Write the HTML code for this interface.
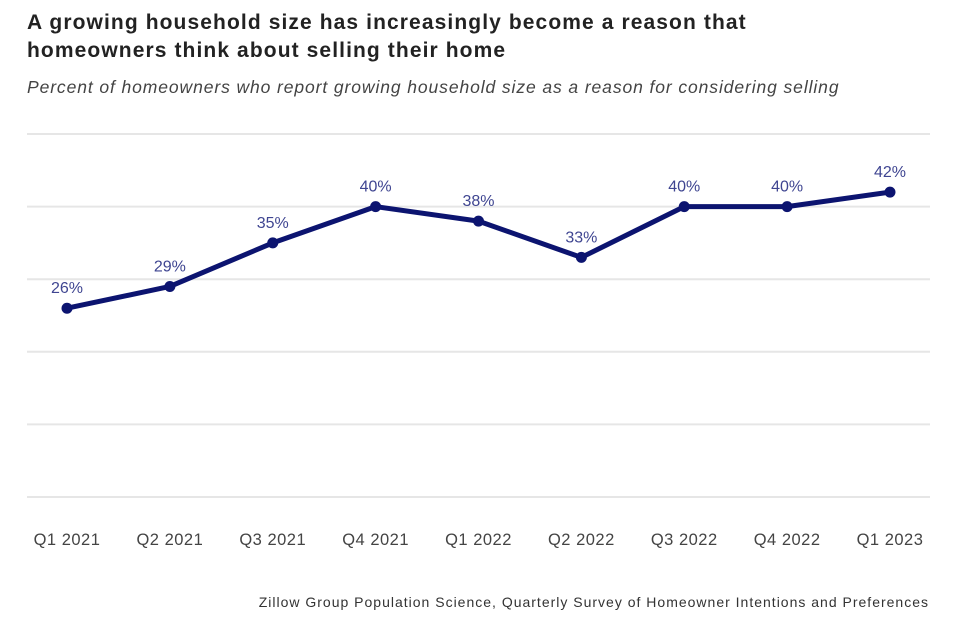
<!DOCTYPE html>
<html><head><meta charset="utf-8"><style>
body{margin:0;background:#fff;width:955px;height:628px;overflow:hidden;font-family:"Liberation Sans",sans-serif;}
.t{position:absolute;left:27px;top:9px;font-size:21px;letter-spacing:1.1px;font-weight:bold;color:#222;line-height:28px;margin:0}
.s{position:absolute;left:27px;top:77px;font-size:17.5px;letter-spacing:0.9px;font-style:italic;color:#444;}
.src{position:absolute;right:26px;top:594px;font-size:14px;letter-spacing:1px;color:#333;}
svg{position:absolute;left:0;top:0}
</style></head><body>
<h1 class="t">A growing household size has increasingly become a reason that<br>homeowners think about selling their home</h1>
<div class="s">Percent of homeowners who report growing household size as a reason for considering selling</div>
<svg id="c" width="955" height="628"></svg>
<div class="src">Zillow Group Population Science, Quarterly Survey of Homeowner Intentions and Preferences</div>
<script>
const categories=["Q1 2021","Q2 2021","Q3 2021","Q4 2021","Q1 2022","Q2 2022","Q3 2022","Q4 2022","Q1 2023"];
const values=[26,29,35,40,38,33,40,40,42];
const gridTicks=[0,10,20,30,40,50];
const svg=document.getElementById('c');const NS='http://www.w3.org/2000/svg';
const x=i=>67+i*(890-67)/(categories.length-1);
const y=v=>497-v*7.26;
function mk(t,a){const e=document.createElementNS(NS,t);for(const k in a)e.setAttribute(k,a[k]);svg.appendChild(e);return e;}
gridTicks.forEach(g=>{const l=mk('line',{x1:27,x2:930,y1:y(g),y2:y(g),stroke:'#e6e6e6','stroke-width':2});

});
categories.forEach((c,i)=>{const t=mk('text',{x:x(i),y:545,'text-anchor':'middle','font-size':16.5,'letter-spacing':0.5,fill:'#444','font-family':'Liberation Sans'});t.textContent=c;

});
const p=mk('polyline',{points:values.map((v,i)=>x(i)+','+y(v)).join(' '),fill:'none',stroke:'#0c1470','stroke-width':5,'stroke-linejoin':'round'});


values.forEach((v,i)=>{const c=mk('circle',{cx:x(i),cy:y(v),r:5.5,fill:'#0c1470'});


const t=mk('text',{x:x(i),y:y(v)-15,'text-anchor':'middle','font-size':16,fill:'#3f4591','font-family':'Liberation Sans'});t.textContent=v+'%';

});
</script>
</body></html>
